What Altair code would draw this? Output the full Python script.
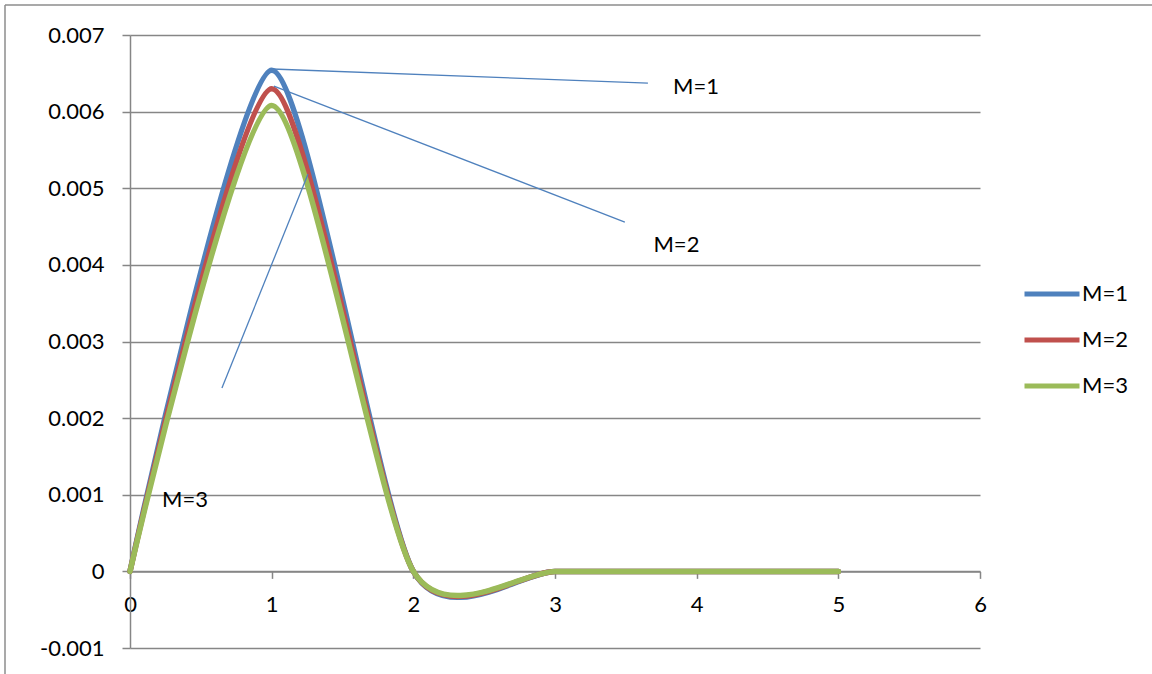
import altair as alt
import pandas as pd

# ---- data ----
x_vals = [0, 1, 2, 3, 4, 5]
m1 = [0.0, 0.00654, 0.0, 0.0, 0.0, 0.0]
m2 = [0.0, 0.00630, 0.0, 0.0, 0.0, 0.0]
m3 = [0.0, 0.00608, 0.0, 0.0, 0.0, 0.0]
series_names = ["M=1", "M=2", "M=3"]
series_colors = ["#4F81BD", "#C0504D", "#9BBB59"]

y_ticks = [-0.001, 0.0, 0.001, 0.002, 0.003, 0.004, 0.005, 0.006, 0.007]
x_ticks = [0, 1, 2, 3, 4, 5, 6]

# annotation labels and leader lines (data coordinates)
ann_text = ["M=1", "M=2", "M=3"]
ann_x = [3.995, 3.857, 0.388]
ann_y = [0.00632, 0.00426, 0.00093]
lead_x1 = [1.002, 1.016, 0.649]
lead_y1 = [0.006556, 0.006334, 0.002392]
lead_x2 = [3.656, 3.493, 1.256]
lead_y2 = [0.006373, 0.004559, 0.005183]

rows = []
for name, ys in zip(series_names, [m1, m2, m3]):
    for xv, yv in zip(x_vals, ys):
        rows.append({"x": xv, "y": yv, "series": name})
df = pd.DataFrame(rows)

ann_df = pd.DataFrame({"label": ann_text, "x": ann_x, "y": ann_y})
lead_df = pd.DataFrame({"x": lead_x1, "y": lead_y1, "x2": lead_x2, "y2": lead_y2})
frame_df = pd.DataFrame({"k": [0]})

W, H = 850, 613
FONT = "Lato"

xscale = alt.Scale(domain=[0, 6], nice=False, zero=False)
yscale = alt.Scale(domain=[-0.001, 0.007], nice=False, zero=False)

lines = alt.Chart(df).mark_line(
    interpolate="cardinal", tension=0.3, strokeWidth=5.5, strokeCap="round"
).encode(
    x=alt.X("x:Q", scale=xscale,
            axis=alt.Axis(values=x_ticks, grid=False, offset=-H / 8.0,
                          tickSize=7, labelPadding=16, format="d", title=None,
                          labelFlush=False)),
    y=alt.Y("y:Q", scale=yscale,
            axis=alt.Axis(values=y_ticks, grid=True, tickSize=8, labelPadding=18,
                          title=None, labelFlush=False,
                          labelExpr="replace(format(datum.value, '.3~f'), '\u2212', '-')")),
    color=alt.Color("series:N",
                    scale=alt.Scale(domain=series_names, range=series_colors),
                    legend=alt.Legend(title=None, orient="none", legendX=892, legendY=229,
                                      symbolType="stroke", symbolSize=3025,
                                      symbolStrokeWidth=5, labelFont=FONT,
                                      labelFontSize=22, labelColor="#000000",
                                      labelOffset=0, rowPadding=5, padding=0)),
)

leaders = alt.Chart(lead_df).mark_rule(color="#4F81BD", strokeWidth=1.3).encode(
    x=alt.X("x:Q", scale=xscale), y=alt.Y("y:Q", scale=yscale),
    x2="x2:Q", y2="y2:Q",
)

labels = alt.Chart(ann_df).mark_text(
    font=FONT, fontSize=22, color="#000000", align="center", baseline="middle"
).encode(
    x=alt.X("x:Q", scale=xscale), y=alt.Y("y:Q", scale=yscale), text="label:N"
)

frame_top = alt.Chart(frame_df).mark_rule(color="#8C8C8C", strokeWidth=1.5).encode(
    x=alt.value(-125), x2=alt.value(1030), y=alt.value(-30)
)
frame_left = alt.Chart(frame_df).mark_rule(color="#8C8C8C", strokeWidth=1.5).encode(
    x=alt.value(-125), y=alt.value(-30), y2=alt.value(650)
)

chart = alt.layer(lines, leaders, labels, frame_top, frame_left).properties(
    width=W, height=H,
    autosize=alt.AutoSizeParams(type="none"),
    padding={"left": 130, "top": 35, "right": 172, "bottom": 26},
    background="#FFFFFF",
).configure_axis(
    labelFont=FONT, labelFontSize=22, labelColor="#000000",
    domainColor="#868686", domainWidth=1.5,
    tickColor="#868686", tickWidth=1.5,
    gridColor="#868686", gridWidth=1.5,
).configure_view(strokeWidth=0)

chart.save("out.html", embed_options={"renderer": "svg", "actions": False})
